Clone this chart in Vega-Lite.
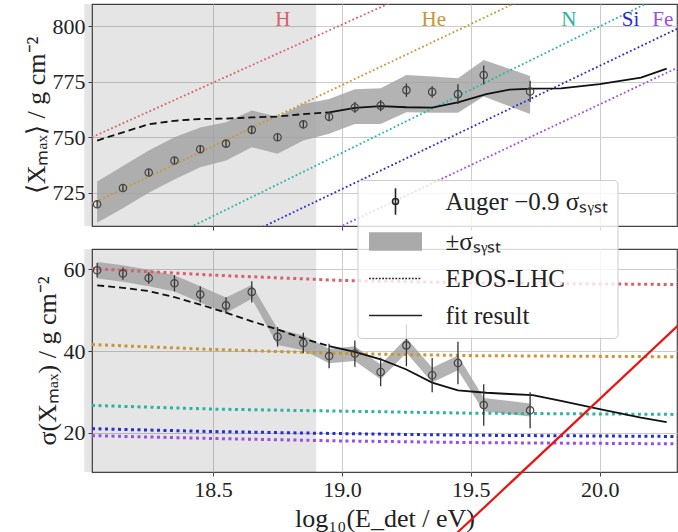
{
  "$schema": "https://vega.github.io/schema/vega-lite/v6.json",
  "background": "white",
  "padding": {"left": 22, "top": 3, "right": 0, "bottom": 0},
  "bounds": "flush",
  "spacing": 23,
  "config": {
    "font": "Liberation Serif",
    "view": {"stroke": "#444", "strokeWidth": 1.2},
    "axis": {
      "labelFont": "Liberation Serif", "labelFontSize": 22, "labelColor": "#222",
      "titleFont": "Liberation Serif", "titleFontSize": 26, "titleFontWeight": "normal", "titleColor": "#222",
      "gridColor": "#cccccc", "gridWidth": 1, "domain": false, "tickColor": "#444", "tickSize": 4, "labelPadding": 3
    }
  },
  "datasets": {
    "shade": [{"x1": 18.0, "x2": 18.9}],
    "ptsTop": [
      {"x": 18.05, "y": 719.8, "elo": 718.2, "ehi": 721.4, "lo": 711.5, "hi": 730.0, "series": "Auger −0.9 σₛᵧₛₜ"},
      {"x": 18.15, "y": 727.1, "elo": 725.6, "ehi": 728.6, "lo": 718.0, "hi": 737.0, "series": "Auger −0.9 σₛᵧₛₜ"},
      {"x": 18.25, "y": 734.1, "elo": 732.6, "ehi": 735.6, "lo": 725.0, "hi": 744.0, "series": "Auger −0.9 σₛᵧₛₜ"},
      {"x": 18.35, "y": 739.5, "elo": 738.0, "ehi": 741.0, "lo": 731.0, "hi": 750.0, "series": "Auger −0.9 σₛᵧₛₜ"},
      {"x": 18.45, "y": 744.6, "elo": 743.0, "ehi": 746.2, "lo": 736.5, "hi": 754.4, "series": "Auger −0.9 σₛᵧₛₜ"},
      {"x": 18.55, "y": 747.1, "elo": 745.5, "ehi": 748.7, "lo": 739.5, "hi": 756.7, "series": "Auger −0.9 σₛᵧₛₜ"},
      {"x": 18.65, "y": 753.3, "elo": 751.6, "ehi": 755.0, "lo": 745.5, "hi": 762.0, "series": "Auger −0.9 σₛᵧₛₜ"},
      {"x": 18.75, "y": 750.0, "elo": 748.3, "ehi": 751.7, "lo": 742.5, "hi": 759.2, "series": "Auger −0.9 σₛᵧₛₜ"},
      {"x": 18.85, "y": 755.8, "elo": 754.0, "ehi": 757.6, "lo": 748.5, "hi": 765.0, "series": "Auger −0.9 σₛᵧₛₜ"},
      {"x": 18.95, "y": 759.2, "elo": 757.2, "ehi": 761.2, "lo": 751.5, "hi": 767.2, "series": "Auger −0.9 σₛᵧₛₜ"},
      {"x": 19.05, "y": 763.4, "elo": 761.0, "ehi": 765.8, "lo": 756.0, "hi": 771.6, "series": "Auger −0.9 σₛᵧₛₜ"},
      {"x": 19.15, "y": 764.2, "elo": 761.7, "ehi": 766.7, "lo": 756.0, "hi": 772.0, "series": "Auger −0.9 σₛᵧₛₜ"},
      {"x": 19.25, "y": 771.2, "elo": 768.2, "ehi": 774.2, "lo": 761.2, "hi": 778.0, "series": "Auger −0.9 σₛᵧₛₜ"},
      {"x": 19.35, "y": 770.4, "elo": 767.8, "ehi": 773.0, "lo": 761.0, "hi": 777.3, "series": "Auger −0.9 σₛᵧₛₜ"},
      {"x": 19.45, "y": 769.4, "elo": 764.9, "ehi": 773.9, "lo": 761.0, "hi": 776.5, "series": "Auger −0.9 σₛᵧₛₜ"},
      {"x": 19.55, "y": 778.0, "elo": 773.7, "ehi": 782.3, "lo": 768.3, "hi": 784.8, "series": "Auger −0.9 σₛᵧₛₜ"},
      {"x": 19.73, "y": 770.6, "elo": 765.8, "ehi": 775.4, "lo": 760.5, "hi": 777.6, "series": "Auger −0.9 σₛᵧₛₜ"}
    ],
    "ptsBot": [
      {"x": 18.05, "y": 59.8, "elo": 58.0, "ehi": 61.6, "lo": 57.8, "hi": 61.8},
      {"x": 18.15, "y": 59.0, "elo": 57.5, "ehi": 60.5, "lo": 57.0, "hi": 61.0},
      {"x": 18.25, "y": 57.9, "elo": 56.5, "ehi": 59.3, "lo": 55.9, "hi": 59.9},
      {"x": 18.35, "y": 56.6, "elo": 54.6, "ehi": 58.6, "lo": 54.6, "hi": 58.6},
      {"x": 18.45, "y": 53.9, "elo": 51.9, "ehi": 55.9, "lo": 51.9, "hi": 55.9},
      {"x": 18.55, "y": 51.2, "elo": 49.2, "ehi": 53.2, "lo": 49.3, "hi": 53.1},
      {"x": 18.65, "y": 54.5, "elo": 51.9, "ehi": 57.1, "lo": 52.8, "hi": 56.2},
      {"x": 18.75, "y": 43.5, "elo": 41.1, "ehi": 45.9, "lo": 41.5, "hi": 45.5},
      {"x": 18.85, "y": 42.0, "elo": 39.5, "ehi": 44.5, "lo": 40.2, "hi": 43.8},
      {"x": 18.95, "y": 38.8, "elo": 35.8, "ehi": 41.8, "lo": 37.0, "hi": 40.6},
      {"x": 19.05, "y": 39.4, "elo": 36.2, "ehi": 42.6, "lo": 37.6, "hi": 41.2},
      {"x": 19.15, "y": 34.9, "elo": 31.4, "ehi": 38.4, "lo": 33.1, "hi": 36.7},
      {"x": 19.25, "y": 41.4, "elo": 36.3, "ehi": 46.5, "lo": 39.6, "hi": 43.2},
      {"x": 19.35, "y": 34.1, "elo": 29.9, "ehi": 38.3, "lo": 32.3, "hi": 35.9},
      {"x": 19.45, "y": 37.1, "elo": 31.9, "ehi": 42.3, "lo": 35.3, "hi": 38.9},
      {"x": 19.55, "y": 26.8, "elo": 21.7, "ehi": 31.9, "lo": 25.3, "hi": 28.5},
      {"x": 19.73, "y": 25.5, "elo": 21.1, "ehi": 29.9, "lo": 24.0, "hi": 27.2}
    ],
    "fitTopLow": [
      {"x": 18.05, "y": 748.5}, {"x": 18.15, "y": 752.2}, {"x": 18.25, "y": 755.8}, {"x": 18.35, "y": 757.4},
      {"x": 18.45, "y": 758.2}, {"x": 18.55, "y": 758.4}, {"x": 18.65, "y": 758.9}, {"x": 18.75, "y": 759.3},
      {"x": 18.85, "y": 760.4}, {"x": 18.95, "y": 761.2}
    ],
    "fitTopHigh": [
      {"x": 18.95, "y": 761.2}, {"x": 19.05, "y": 763.2}, {"x": 19.15, "y": 764.0}, {"x": 19.25, "y": 763.5},
      {"x": 19.35, "y": 763.3}, {"x": 19.45, "y": 765.7}, {"x": 19.56, "y": 769.4}, {"x": 19.65, "y": 771.4},
      {"x": 19.74, "y": 771.9}, {"x": 19.85, "y": 772.0}, {"x": 20.0, "y": 773.9}, {"x": 20.16, "y": 776.8},
      {"x": 20.26, "y": 780.9}
    ],
    "fitBotLow": [
      {"x": 18.05, "y": 56.1}, {"x": 18.15, "y": 55.5}, {"x": 18.25, "y": 54.7}, {"x": 18.35, "y": 53.2},
      {"x": 18.45, "y": 51.4}, {"x": 18.55, "y": 49.4}, {"x": 18.65, "y": 47.3}, {"x": 18.75, "y": 45.3},
      {"x": 18.85, "y": 43.1}, {"x": 18.95, "y": 41.2}
    ],
    "fitBotHigh": [
      {"x": 18.95, "y": 41.2}, {"x": 19.05, "y": 39.8}, {"x": 19.15, "y": 38.0}, {"x": 19.25, "y": 35.5},
      {"x": 19.35, "y": 32.3}, {"x": 19.45, "y": 30.4}, {"x": 19.56, "y": 29.8}, {"x": 19.65, "y": 29.5},
      {"x": 19.74, "y": 29.2}, {"x": 19.85, "y": 27.8}, {"x": 20.0, "y": 25.8}, {"x": 20.16, "y": 23.7},
      {"x": 20.26, "y": 22.6}
    ],
    "compTop": [
      {"el": "H", "x": 18.03, "y": 750.0}, {"el": "H", "x": 20.3, "y": 868.7},
      {"el": "He", "x": 18.03, "y": 720.1}, {"el": "He", "x": 20.3, "y": 845.0},
      {"el": "N", "x": 18.03, "y": 687.7}, {"el": "N", "x": 20.3, "y": 817.0},
      {"el": "Si", "x": 18.03, "y": 672.8}, {"el": "Si", "x": 20.3, "y": 798.8},
      {"el": "Fe", "x": 18.03, "y": 657.0}, {"el": "Fe", "x": 20.3, "y": 781.2}
    ],
    "compBot": [
      {"el": "H", "x": 18.03, "y": 60.2}, {"el": "H", "x": 18.5, "y": 58.6}, {"el": "H", "x": 19.0, "y": 57.3}, {"el": "H", "x": 19.5, "y": 56.7}, {"el": "H", "x": 20.3, "y": 56.3},
      {"el": "He", "x": 18.03, "y": 41.6}, {"el": "He", "x": 18.5, "y": 40.4}, {"el": "He", "x": 19.0, "y": 39.4}, {"el": "He", "x": 19.5, "y": 38.9}, {"el": "He", "x": 20.3, "y": 38.6},
      {"el": "N", "x": 18.03, "y": 26.7}, {"el": "N", "x": 18.5, "y": 25.8}, {"el": "N", "x": 19.0, "y": 25.3}, {"el": "N", "x": 19.5, "y": 24.8}, {"el": "N", "x": 20.3, "y": 24.5},
      {"el": "Si", "x": 18.03, "y": 21.0}, {"el": "Si", "x": 18.5, "y": 20.3}, {"el": "Si", "x": 19.0, "y": 19.8}, {"el": "Si", "x": 19.5, "y": 19.4}, {"el": "Si", "x": 20.3, "y": 19.1},
      {"el": "Fe", "x": 18.03, "y": 19.3}, {"el": "Fe", "x": 18.5, "y": 18.6}, {"el": "Fe", "x": 19.0, "y": 18.0}, {"el": "Fe", "x": 19.5, "y": 17.6}, {"el": "Fe", "x": 20.3, "y": 17.3}
    ],
    "elLabels": [
      {"el": "H", "x": 18.77, "y": 803.0}, {"el": "He", "x": 19.356, "y": 803.0}, {"el": "N", "x": 19.88, "y": 803.0},
      {"el": "Si", "x": 20.12, "y": 803.0}, {"el": "Fe", "x": 20.245, "y": 803.0}
    ],
    "redline": [{"x": 19.446, "y": -4.55}, {"x": 20.315, "y": 46.9}]
  },
  "vconcat": [
    {
      "width": 585, "height": 222,
      "layer": [
        {
          "data": {"name": "shade"},
          "mark": {"type": "rect", "color": "#000000", "opacity": 0.1},
          "encoding": {
            "x": {"field": "x1", "type": "quantitative", "scale": {"domain": [18.03, 20.3], "nice": false, "zero": false},
                  "axis": {"title": null, "labels": false, "values": [18.5, 19.0, 19.5, 20.0]}},
            "x2": {"field": "x2"}
          }
        },
        {
          "data": {"name": "ptsTop"},
          "mark": {"type": "area", "color": "#a0a0a0", "opacity": 0.8},
          "encoding": {
            "x": {"field": "x", "type": "quantitative"},
            "y": {"field": "lo", "type": "quantitative", "scale": {"domain": [710, 810], "nice": false, "zero": false},
                  "axis": {"title": "⟨Xₘₐₓ⟩ / g cm⁻²", "values": [725, 750, 775, 800], "titlePadding": 3}},
            "y2": {"field": "hi"}
          }
        },
        {
          "data": {"name": "compTop"},
          "mark": {"type": "line", "strokeWidth": 1.8, "strokeDash": [1.8, 2.4], "clip": true},
          "encoding": {
            "x": {"field": "x", "type": "quantitative"},
            "y": {"field": "y", "type": "quantitative"},
            "color": {"field": "el", "type": "nominal", "legend": null,
                      "scale": {"domain": ["H", "He", "N", "Si", "Fe"], "range": ["#d9606a", "#c89633", "#2bb3a3", "#2a2ad6", "#9b4ee6"]}}
          }
        },
        {
          "data": {"name": "fitTopLow"},
          "mark": {"type": "line", "color": "#111111", "strokeWidth": 1.8, "strokeDash": [7, 4]},
          "encoding": {"x": {"field": "x", "type": "quantitative"}, "y": {"field": "y", "type": "quantitative"}}
        },
        {
          "data": {"name": "fitTopHigh"},
          "mark": {"type": "line", "color": "#111111", "strokeWidth": 1.8},
          "encoding": {"x": {"field": "x", "type": "quantitative"}, "y": {"field": "y", "type": "quantitative"}}
        },
        {
          "data": {"name": "ptsTop"},
          "mark": {"type": "rule", "color": "#333333", "strokeWidth": 1.3},
          "encoding": {"x": {"field": "x", "type": "quantitative"}, "y": {"field": "elo", "type": "quantitative"}, "y2": {"field": "ehi"}}
        },
        {
          "data": {"name": "ptsTop"},
          "mark": {"type": "point", "shape": "circle", "filled": false, "color": "#444444", "strokeWidth": 1.2, "size": 55, "opacity": 1},
          "encoding": {"x": {"field": "x", "type": "quantitative"}, "y": {"field": "y", "type": "quantitative"}}
        },
        {
          "data": {"name": "ptsTop"},
          "mark": {"type": "point", "opacity": 0, "size": 10},
          "encoding": {
            "x": {"field": "x", "type": "quantitative"},
            "y": {"field": "y", "type": "quantitative"},
            "shape": {
              "field": "series", "type": "nominal",
              "scale": {"domain": ["Auger −0.9 σₛᵧₛₜ", "±σₛᵧₛₜ", "EPOS-LHC", "fit result"],
                        "range": ["M1.65,-1.33V1.33M1.35,0A0.3,0.3 0 1,0 1.95,0A0.3,0.3 0 1,0 1.35,0", "M-1,-0.92H4.3V0.92H-1Z", "M-1,0h0.18M-0.67,0h0.18M-0.34,0h0.18M-0.01,0h0.18M0.32,0h0.18M0.65,0h0.18M0.98,0h0.18M1.31,0h0.18M1.64,0h0.18M1.97,0h0.18M2.3,0h0.18M2.63,0h0.18M2.96,0h0.18M3.29,0h0.18M3.62,0h0.18M3.95,0h0.18", "M-1,0H4.3"]},
              "legend": {"orient": "none", "legendX": 265.5, "legendY": 176, "title": null,
                "labelFont": "Liberation Serif", "labelFontSize": 25, "labelColor": "#222", "labelLimit": 400,
                "labelOffset": 54, "symbolSize": 400, "symbolStrokeWidth": 1.6, "symbolOpacity": 1, "rowPadding": 11, "padding": 9,
                "fillColor": "rgba(255,255,255,0.8)", "strokeColor": "#cccccc", "cornerRadius": 4}
            },
            "fill": {
              "field": "series", "type": "nominal",
              "scale": {"domain": ["Auger −0.9 σₛᵧₛₜ", "±σₛᵧₛₜ", "EPOS-LHC", "fit result"], "range": ["transparent", "#aaaaaa", "transparent", "transparent"]},
              "legend": {"orient": "none", "legendX": 265.5, "legendY": 176, "title": null,
                "labelFont": "Liberation Serif", "labelFontSize": 25, "labelColor": "#222", "labelLimit": 400,
                "labelOffset": 54, "symbolSize": 400, "symbolStrokeWidth": 1.6, "symbolOpacity": 1, "rowPadding": 11, "padding": 9,
                "fillColor": "rgba(255,255,255,0.8)", "strokeColor": "#cccccc", "cornerRadius": 4}
            },
            "stroke": {
              "field": "series", "type": "nominal",
              "scale": {"domain": ["Auger −0.9 σₛᵧₛₜ", "±σₛᵧₛₜ", "EPOS-LHC", "fit result"], "range": ["#222222", "transparent", "#222222", "#222222"]},
              "legend": {"orient": "none", "legendX": 265.5, "legendY": 176, "title": null,
                "labelFont": "Liberation Serif", "labelFontSize": 25, "labelColor": "#222", "labelLimit": 400,
                "labelOffset": 54, "symbolSize": 400, "symbolStrokeWidth": 1.6, "symbolOpacity": 1, "rowPadding": 11, "padding": 9,
                "fillColor": "rgba(255,255,255,0.8)", "strokeColor": "#cccccc", "cornerRadius": 4}
            }
          }
        },
        {
          "data": {"name": "elLabels"},
          "mark": {"type": "text", "font": "Liberation Serif", "fontSize": 21, "baseline": "middle", "align": "center"},
          "encoding": {
            "x": {"field": "x", "type": "quantitative"},
            "y": {"field": "y", "type": "quantitative"},
            "text": {"field": "el", "type": "nominal"},
            "color": {"field": "el", "type": "nominal", "legend": null}
          }
        }
      ]
    },
    {
      "width": 585, "height": 223,
      "layer": [
        {
          "data": {"name": "shade"},
          "mark": {"type": "rect", "color": "#000000", "opacity": 0.1},
          "encoding": {
            "x": {"field": "x1", "type": "quantitative", "scale": {"domain": [18.03, 20.3], "nice": false, "zero": false},
                  "axis": {"title": "log₁₀(E_det / eV)", "values": [18.5, 19.0, 19.5, 20.0], "format": ".1f", "titlePadding": 5}},
            "x2": {"field": "x2"}
          }
        },
        {
          "data": {"name": "ptsBot"},
          "mark": {"type": "area", "color": "#a0a0a0", "opacity": 0.8},
          "encoding": {
            "x": {"field": "x", "type": "quantitative"},
            "y": {"field": "lo", "type": "quantitative", "scale": {"domain": [10.4, 65], "nice": false, "zero": false},
                  "axis": {"title": "σ(Xₘₐₓ) / g cm⁻²", "values": [20, 40, 60], "titlePadding": 3}},
            "y2": {"field": "hi"}
          }
        },
        {
          "data": {"name": "compBot"},
          "mark": {"type": "line", "strokeWidth": 3, "strokeDash": [3, 3.5], "clip": true},
          "encoding": {
            "x": {"field": "x", "type": "quantitative"},
            "y": {"field": "y", "type": "quantitative"},
            "color": {"field": "el", "type": "nominal", "legend": null}
          }
        },
        {
          "data": {"name": "fitBotLow"},
          "mark": {"type": "line", "color": "#111111", "strokeWidth": 1.8, "strokeDash": [7, 4]},
          "encoding": {"x": {"field": "x", "type": "quantitative"}, "y": {"field": "y", "type": "quantitative"}}
        },
        {
          "data": {"name": "fitBotHigh"},
          "mark": {"type": "line", "color": "#111111", "strokeWidth": 1.8},
          "encoding": {"x": {"field": "x", "type": "quantitative"}, "y": {"field": "y", "type": "quantitative"}}
        },
        {
          "data": {"name": "ptsBot"},
          "mark": {"type": "rule", "color": "#333333", "strokeWidth": 1.3},
          "encoding": {"x": {"field": "x", "type": "quantitative"}, "y": {"field": "elo", "type": "quantitative"}, "y2": {"field": "ehi"}}
        },
        {
          "data": {"name": "ptsBot"},
          "mark": {"type": "point", "shape": "circle", "filled": false, "color": "#444444", "strokeWidth": 1.2, "size": 55, "opacity": 1},
          "encoding": {"x": {"field": "x", "type": "quantitative"}, "y": {"field": "y", "type": "quantitative"}}
        },
        {
          "data": {"name": "redline"},
          "mark": {"type": "line", "color": "#ee1111", "strokeWidth": 2.2, "clip": false},
          "encoding": {"x": {"field": "x", "type": "quantitative"}, "y": {"field": "y", "type": "quantitative"}}
        }
      ]
    }
  ]
}
